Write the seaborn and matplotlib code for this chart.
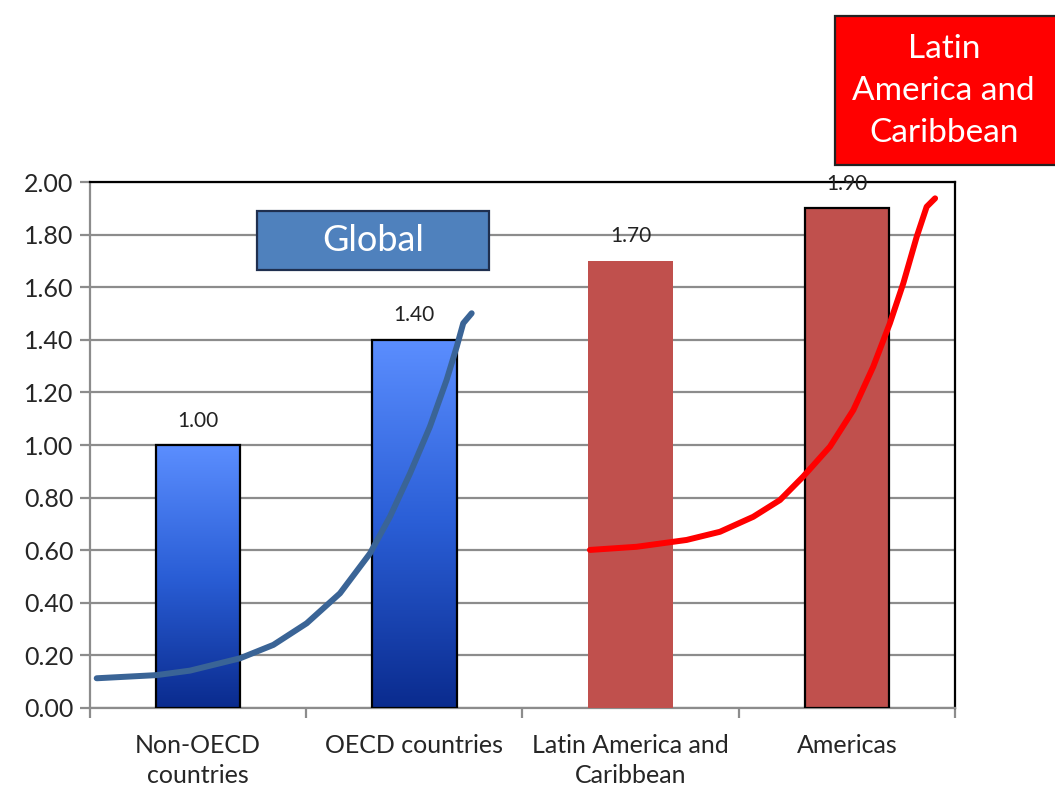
import numpy as np
import matplotlib
matplotlib.use("Agg")
import matplotlib.pyplot as plt
import seaborn as sns
from matplotlib.colors import LinearSegmentedColormap
from matplotlib.patches import Rectangle
from matplotlib.ticker import MultipleLocator, FixedLocator

# data
categories = ["Non-OECD\ncountries", "OECD countries", "Latin America and\nCaribbean", "Americas"]
values = [1.00, 1.40, 1.70, 1.90]
bar_colors = ["#4F7FEF", "#4F7FEF", "#C0504D", "#C0504D"]
bar_edges = ["black", "black", "none", "black"]

# hand-drawn trend curves (x in category units, y in axis units)
global_curve_x = [-0.469, -0.192, -0.038, 0.194, 0.348, 0.502, 0.656, 0.795,
                  0.887, 0.980, 1.072, 1.149, 1.196, 1.226, 1.265]
global_curve_y = [0.113, 0.125, 0.142, 0.189, 0.240, 0.322, 0.436, 0.588,
                  0.727, 0.892, 1.070, 1.247, 1.374, 1.463, 1.501]
latam_curve_x = [1.812, 2.028, 2.259, 2.413, 2.567, 2.691, 2.798, 2.922,
                 3.030, 3.122, 3.199, 3.261, 3.323, 3.369, 3.408]
latam_curve_y = [0.601, 0.613, 0.639, 0.670, 0.727, 0.791, 0.880, 0.994,
                 1.133, 1.298, 1.463, 1.615, 1.792, 1.906, 1.938]

sns.set_style("white")
plt.rcParams["font.family"] = ["Lato", "DejaVu Sans"]

fig = plt.figure(figsize=(10.55, 7.87), dpi=100)
ax = fig.add_axes([0.0853, 0.1004, 0.8199, 0.6683])

sns.barplot(x=categories, y=values, hue=categories, palette=bar_colors,
            legend=False, width=0.39, saturation=1, ax=ax, zorder=3)

# blue bars get a vertical gradient, like the original
blue_grad = LinearSegmentedColormap.from_list("bg", ["#0A2B8E", "#2A5ED6", "#5B8EFF"])
grad = np.linspace(0, 1, 256).reshape(-1, 1)
for i, patch in enumerate(ax.patches):
    patch.set_edgecolor(bar_edges[i])
    patch.set_linewidth(1.6 if bar_edges[i] != "none" else 0)
    if i < 2:
        x0, w, h = patch.get_x(), patch.get_width(), patch.get_height()
        patch.set_facecolor("none")
        im = ax.imshow(grad, extent=[x0, x0 + w, 0, h], origin="lower", aspect="auto",
                       cmap=blue_grad, zorder=2.9)
        im.set_clip_path(patch)

for patch, v in zip(ax.patches, values):
    ax.text(patch.get_x() + patch.get_width() / 2, v + 0.055, f"{v:.2f}",
            ha="center", va="bottom", fontsize=15, color="#222222", zorder=5)

ax.plot(global_curve_x, global_curve_y, color="#3A6496", lw=4.3,
        solid_capstyle="round", solid_joinstyle="round", zorder=4)
ax.plot(latam_curve_x, latam_curve_y, color="#FF0000", lw=4.3,
        solid_capstyle="round", solid_joinstyle="round", zorder=4)

ax.set_xlim(-0.5, 3.5)
ax.set_ylim(0, 2.0)
ax.yaxis.set_major_locator(MultipleLocator(0.2))
ax.yaxis.set_major_formatter(matplotlib.ticker.FormatStrFormatter("%.2f"))
ax.grid(axis="y", color="#8C8C8C", lw=1.6, zorder=0)
ax.set_axisbelow(True)
ax.set_xlabel("")
ax.set_ylabel("")

ax.tick_params(axis="y", labelsize=18, length=7, width=1.6, color="#8C8C8C",
               direction="out", pad=5, left=True)
ax.tick_params(axis="x", which="major", length=0, labelsize=18, pad=19)
ax.xaxis.set_minor_locator(FixedLocator([-0.5, 0.5, 1.5, 2.5, 3.5]))
ax.tick_params(axis="x", which="minor", length=7, width=1.6, color="#8C8C8C",
               direction="out", bottom=True)
for lbl in ax.get_xticklabels():
    lbl.set_linespacing(1.35)

for side in ["left", "bottom"]:
    ax.spines[side].set_color("#8C8C8C")
    ax.spines[side].set_linewidth(1.6)
for side in ["top", "right"]:
    ax.spines[side].set_color("black")
    ax.spines[side].set_linewidth(1.6)
    ax.spines[side].set_visible(True)

# annotation boxes
fig.patches.append(Rectangle((0.2436, 0.657), 0.2199, 0.075, transform=fig.transFigure,
                             facecolor="#4F81BD", edgecolor="#1F2F4F", lw=1.6, zorder=10))
fig.text(0.3535, 0.6945, "Global", ha="center", va="center", color="white",
         fontsize=26, zorder=11)

fig.patches.append(Rectangle((0.7915, 0.790), 0.25, 0.190, transform=fig.transFigure,
                             facecolor="#FF0000", edgecolor="#222222", lw=1.6, zorder=10))
fig.text(0.8945, 0.884, "Latin\nAmerica and\nCaribbean", ha="center", va="center",
         color="white", fontsize=24, linespacing=1.5, zorder=11)

fig.savefig("out.png", dpi=100)
